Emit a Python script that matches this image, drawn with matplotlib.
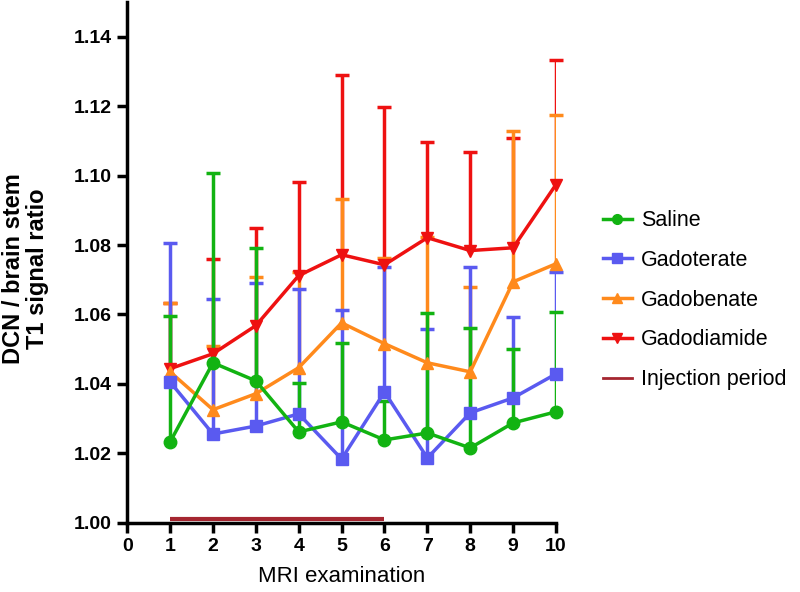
import matplotlib
matplotlib.use("Agg")
import matplotlib.pyplot as plt
from matplotlib.lines import Line2D

plt.rcParams['font.family'] = ['Liberation Sans', 'DejaVu Sans']

exams = [1, 2, 3, 4, 5, 6, 7, 8, 9, 10]

saline = [1.0233, 1.0461, 1.0409, 1.0262, 1.0291, 1.0239, 1.0259, 1.0216, 1.0288, 1.0320]
saline_top = [1.0596, 1.1008, 1.0792, 1.0403, 1.0519, 1.0351, 1.0605, 1.0562, 1.0500, 1.0608]

gadoterate = [1.0406, 1.0256, 1.0279, 1.0314, 1.0184, 1.0377, 1.0187, 1.0317, 1.0360, 1.0429]
gadoterate_top = [1.0807, 1.0645, 1.0691, 1.0674, 1.0614, 1.0738, 1.0559, 1.0738, 1.0593, 1.0723]

gadobenate = [1.0435, 1.0326, 1.0372, 1.0447, 1.0576, 1.0516, 1.0461, 1.0435, 1.0694, 1.0746]
gadobenate_top = [1.0634, 1.0510, 1.0709, 1.0723, 1.0931, 1.0763, 1.0824, 1.0680, 1.1129, 1.1175]

gadodiamide = [1.0444, 1.0487, 1.0568, 1.0712, 1.0772, 1.0743, 1.0821, 1.0784, 1.0792, 1.0974]
gadodiamide_top = [1.0632, 1.0761, 1.0850, 1.0982, 1.1288, 1.1196, 1.1095, 1.1069, 1.1109, 1.1331]

injection_x = [1, 6]
injection_y = [1.001, 1.001]
injection_color = "#a52630"

# drawn bottom to top: red, orange, blue, green
series = [
    ("Gadodiamide", gadodiamide, gadodiamide_top, "#ee1111", "v"),
    ("Gadobenate", gadobenate, gadobenate_top, "#ff8a1c", "^"),
    ("Gadoterate", gadoterate, gadoterate_top, "#5a5af0", "s"),
    ("Saline", saline, saline_top, "#12b312", "o"),
]

fig = plt.figure(figsize=(8, 5.92), dpi=100)
ax = fig.add_axes([0.159, 0.1166, 0.695 - 0.159, 0.997 - 0.1166])

handles = {}
for i, (name, vals, tops, col, mk) in enumerate(series):
    # upper-only error bars, all bars sit below the lines/markers
    ax.vlines(exams, vals, tops, color=col, linewidth=2.5, zorder=2 + i * 0.1)
    ax.plot(exams, tops, linestyle="none", marker="_", markersize=10,
            markeredgewidth=2.5, color=col, zorder=2 + i * 0.1, clip_on=False)
    ax.plot(exams, vals, color=col, marker=mk, markersize=9, linewidth=2.5,
            zorder=3 + i * 0.1, clip_on=False)
    handles[name] = Line2D([], [], color=col, marker=mk, markersize=7, linewidth=2.5)

ax.plot(injection_x, injection_y, color=injection_color, linewidth=3, zorder=10,
        solid_capstyle='butt')

ax.set_xlim(0, 10)
ax.set_ylim(1.00, 1.15)
ax.set_xticks(range(0, 11))
ax.set_yticks([1.00, 1.02, 1.04, 1.06, 1.08, 1.10, 1.12, 1.14])
ax.set_yticklabels(["1.00", "1.02", "1.04", "1.06", "1.08", "1.10", "1.12", "1.14"])

for s in ["top", "right"]:
    ax.spines[s].set_visible(False)
for s in ["left", "bottom"]:
    ax.spines[s].set_linewidth(2.5)
ax.tick_params(direction="out", length=7, width=2.5, labelsize=14, pad=4)
for lab in ax.get_xticklabels() + ax.get_yticklabels():
    lab.set_fontweight("bold")

ax.set_xlabel("MRI examination", fontsize=16, labelpad=8)
fig.text(0.032, 0.546, "DCN / brain stem\nT1 signal ratio", rotation=90,
         ha="center", va="center", fontsize=17, fontweight="bold",
         linespacing=1.1)

leg_handles = [handles["Saline"], handles["Gadoterate"], handles["Gadobenate"],
               handles["Gadodiamide"],
               Line2D([], [], color=injection_color, linewidth=2)]
leg_labels = ["Saline", "Gadoterate", "Gadobenate", "Gadodiamide", "Injection period"]
fig.legend(leg_handles, leg_labels, loc="center left",
           bbox_to_anchor=(0.729, 0.493), frameon=False, fontsize=15.5,
           handlelength=1.35, handletextpad=0.45, labelspacing=0.87)

fig.savefig("out.png", dpi=100)
